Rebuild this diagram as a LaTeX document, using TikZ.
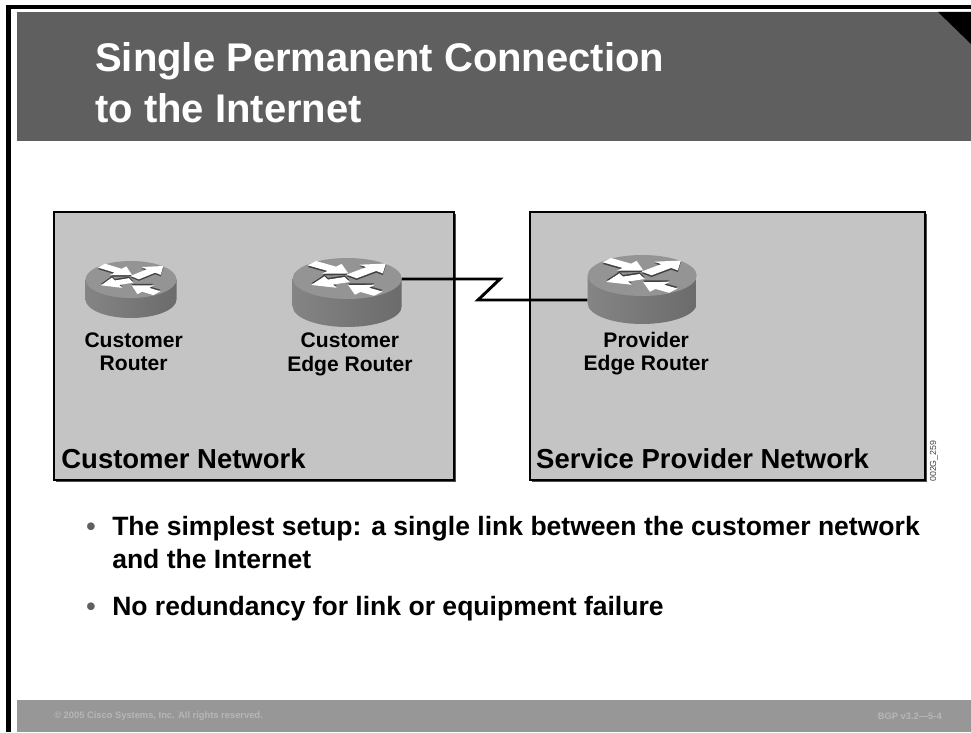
\documentclass[tikz,border=0pt]{standalone}
\usepackage{fontspec}
\setmainfont{Liberation Sans}
\usetikzlibrary{positioning,shadows}
\definecolor{headGray}{HTML}{5F5F5F}
\definecolor{footGray}{HTML}{979797}
\definecolor{footText}{HTML}{B7B7B7}
\definecolor{boxGray}{HTML}{C4C4C4}
\definecolor{rimGray}{HTML}{949494}
\tikzset{
  netBox/.style={rectangle, draw=black, line width=1.3pt, fill=boxGray, minimum width=300pt, minimum height=201pt, inner sep=0pt,
    drop shadow={shadow xshift=1.5pt, shadow yshift=-1.5pt, fill=black!70, opacity=1}},
  netLabel/.style={font=\bfseries\fontsize{20.6}{24}\selectfont, inner sep=0pt},
  routerLabel/.style={font=\bfseries\fontsize{15.8}{17.6}\selectfont, align=center, inner sep=0pt},
  bulletText/.style={font=\bfseries\fontsize{19.9}{24.5}\selectfont, inner sep=0pt, anchor=base west},
  bulletDot/.style={font=\bfseries\fontsize{19.9}{24.5}\selectfont, text=headGray, inner sep=0pt, anchor=base west},
  footNote/.style={font=\bfseries\fontsize{7}{9}\selectfont, text=footText, inner sep=0pt},
  linkLine/.style={line width=2.2pt, line join=miter, black},
  routerArrow/.style={fill=white, draw=none},
  routerArrowDark/.style={fill=black!75, draw=none}
}
% args: name, x, y of top centre, x radius, y radius, depth
\newcommand{\drawRouter}[6]{
  \path[shade, left color=black!48, middle color=black!62, right color=black!58]
    (#2-#4,#3) -- ++(0,-#6) arc[start angle=180, end angle=360, x radius=#4, y radius=#5] -- ++(0,#6) -- cycle;
  \fill[rimGray] (#2,#3) ellipse[x radius=#4, y radius=#5];
  \begin{scope}[shift={(#2,#3)}, xscale=#4, yscale=#5]
    \foreach \sx/\sy/\ang/\len/\dy in {-.65/.75/-37/.84/-.08, .08/.1/45/.89/-.08, 0/-.05/202/.71/.08, .57/-.74/143/.69/.08}{
      \fill[routerArrowDark, shift={(\sx,\sy+\dy)}, rotate=\ang] (0,-.13) -- (\len-.38,-.13) -- (\len-.38,-.3) -- (\len,0) -- (\len-.38,.3) -- (\len-.38,.13) -- (0,.13) -- cycle;
      \fill[routerArrow, shift={(\sx,\sy)}, rotate=\ang] (0,-.13) -- (\len-.38,-.13) -- (\len-.38,-.3) -- (\len,0) -- (\len-.38,.3) -- (\len-.38,.13) -- (0,.13) -- cycle;
    }
  \end{scope}
  \node[inner sep=0pt, minimum width=#4*1.5pt, minimum height=(#5*2+#6)*.75pt] (#1) at (#2,#3-#6/2) {};
}
\begin{document}
\begin{tikzpicture}[x=.75pt, y=.75pt]
  \useasboundingbox (0,0) rectangle (971,732);
  % frame and bars
  \fill[black] (6,727) rectangle (971,723);
  \fill[black] (6,0) rectangle (11,727);
  \fill[headGray] (17,591) rectangle (971,720);
  \fill[black] (938,720) -- (971,720) -- (971,688) -- cycle;
  \fill[footGray] (17,0) rectangle (971,32);
  \node[font=\bfseries\fontsize{30}{38.2}\selectfont, text=white, align=left, anchor=north west, inner sep=0pt] (slideTitle) at (95,690)
    {Single Permanent Connection\\to the Internet};

  \node[netBox] (customerNet) at (254,386) {};
  \node[netBox, minimum width=296pt] (providerNet) at (727.5,386) {};

  \drawRouter{customerRouter}{131}{452.5}{45.5}{18.5}{20}
  \drawRouter{customerEdge}{347.2}{453.5}{54.5}{20.5}{28}
  \drawRouter{providerEdge}{642.2}{456.5}{54.5}{20.5}{28}

  \node[routerLabel, below=10.5pt of customerRouter, xshift=2pt] (customerRouterText) {Customer\\Router};
  \node[routerLabel, below=4pt of customerEdge, xshift=2pt] (customerEdgeText) {Customer\\Edge Router};
  \node[routerLabel, below=5.5pt of providerEdge, xshift=3pt] (providerEdgeText) {Provider\\Edge Router};

  \node[netLabel, above right=8.5pt and 6pt of customerNet.south west] (customerNetText) {Customer Network};
  \node[netLabel, above right=8.5pt and 5pt of providerNet.south west] (providerNetText) {Service Provider Network};

  \coordinate (linkTop) at (500,453);
  \coordinate (linkBottom) at (478,432);
  \draw[linkLine] (customerEdge.east |- linkTop) -- (linkTop) -- (linkBottom) -- (linkBottom -| providerEdge.west);

  \node[rotate=90, font=\fontsize{6.6}{8}\selectfont, text=black!75, inner sep=0pt, anchor=west] (figCode) at (934,250) {002G\_259};

  \node[bulletDot] (dotOne) at (86,196) {•};
  \node[bulletText] (lineOne) at (112,196) {The simplest setup: a single link between the customer network};
  \node[bulletText] (lineTwo) at (112,163) {and the Internet};
  \node[bulletDot] (dotTwo) at (86,116) {•};
  \node[bulletText] (lineThree) at (112,116) {No redundancy for link or equipment failure};

  \node[footNote, anchor=west] (copyText) at (54,16) {© 2005 Cisco Systems, Inc. All rights reserved.};
  \node[footNote, anchor=east] (courseText) at (942,16) {BGP v3.2—5-4};
\end{tikzpicture}
\end{document}
